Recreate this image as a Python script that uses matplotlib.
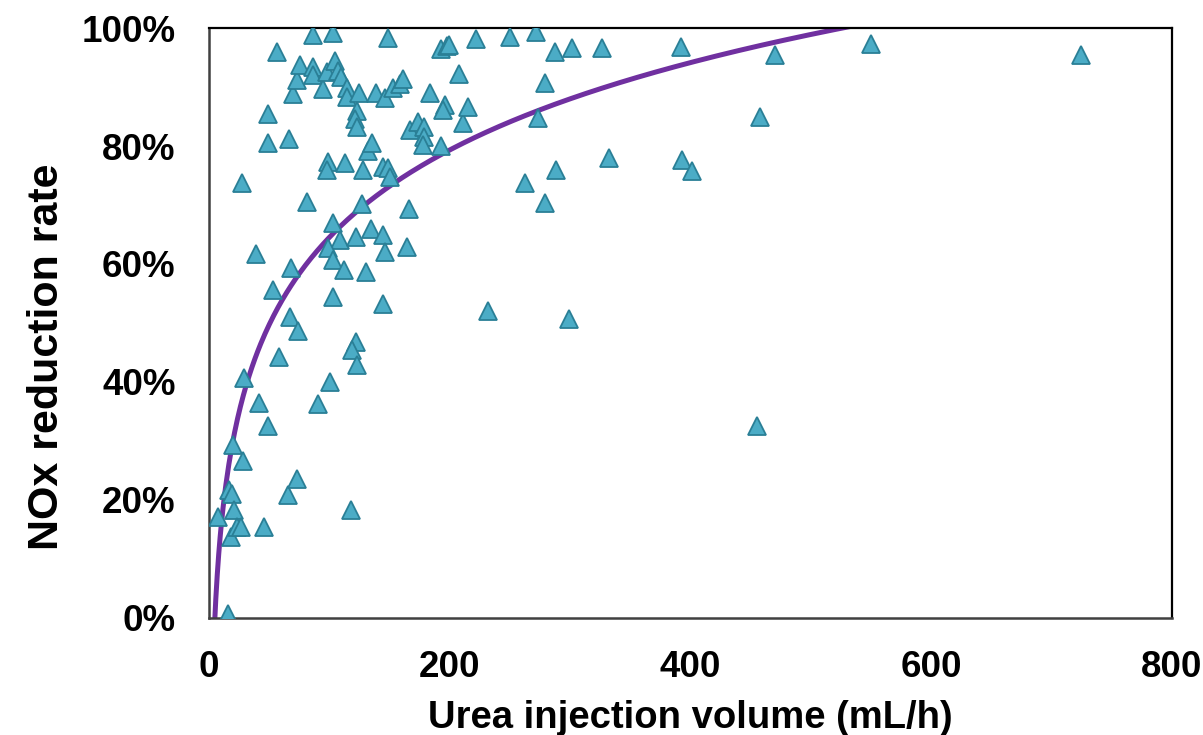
import numpy as np
import matplotlib
matplotlib.use("Agg")
import matplotlib.pyplot as plt
from matplotlib.ticker import PercentFormatter

# urea injection volume (mL/h) and NOx reduction rate (%) per test point
urea = [7.5, 16.6, 19.1, 19.9, 20.8, 18.3, 23.3, 26.6, 28.2, 29.1,
        27.4, 15.8, 39.0, 41.5, 49.0, 45.7, 49.0, 49.0, 53.2, 56.5,
        58.1, 65.6, 73.1, 66.4, 68.1, 67.3, 73.9, 69.8, 73.1, 75.6,
        81.4, 86.4, 86.4, 86.4, 94.7, 90.5, 98.0, 98.8, 98.0, 100.5,
        103.0, 104.7, 103.0, 108.8, 98.8, 103.0, 103.0, 107.1, 109.6, 113.0,
        112.1, 114.6, 114.6, 122.9, 121.3, 122.9, 122.1, 118.8, 122.9, 122.1,
        124.6, 127.9, 127.1, 132.1, 135.4, 134.6, 130.4, 117.9, 138.7, 144.5,
        146.2, 144.5, 146.2, 148.7, 144.5, 148.7, 150.3, 152.8, 158.6, 161.1,
        164.5, 166.1, 166.9, 173.6, 178.6, 178.6, 177.7, 183.6, 192.7, 192.7,
        197.7, 199.3, 196.0, 194.4, 207.6, 211.0, 215.1, 221.8, 231.7, 250.0,
        262.5, 271.6, 273.3, 279.1, 279.1, 287.4, 288.2, 299.0, 301.5, 326.4,
        332.2, 392.0, 392.9, 401.2, 455.1, 457.6, 470.1, 549.8, 724.3]
nox = [17.1, 21.7, 21.0, 29.3, 18.3, 13.7, 15.4, 15.4, 26.6, 40.7,
       73.7, 0.7, 61.7, 36.4, 32.5, 15.4, 85.4, 80.5, 55.6, 95.9,
       44.2, 20.8, 23.6, 81.2, 59.3, 51.0, 48.6, 88.8, 91.2, 93.7,
       70.5, 93.4, 92.0, 98.8, 89.7, 36.3, 92.5, 77.3, 75.9, 40.0,
       99.2, 94.4, 66.9, 64.1, 62.7, 60.7, 54.4, 92.7, 91.7, 77.1,
       59.0, 89.8, 88.3, 85.9, 84.6, 83.2, 46.8, 45.4, 42.9, 64.6,
       89.0, 75.9, 70.2, 79.2, 80.5, 65.9, 58.6, 18.3, 89.0, 64.9,
       62.0, 53.2, 88.1, 98.3, 76.4, 76.3, 74.7, 89.8, 90.5, 91.4,
       62.9, 69.3, 82.7, 84.1, 83.2, 81.5, 80.2, 89.0, 80.0, 96.4,
       96.9, 97.1, 86.9, 86.1, 92.2, 83.9, 86.6, 98.1, 52.0, 98.5,
       73.7, 99.3, 84.7, 70.3, 90.7, 95.9, 75.9, 50.7, 96.6, 96.6,
       78.0, 96.8, 77.6, 75.8, 32.5, 84.9, 95.4, 97.3, 95.4]

# logarithmic trend line: y = a*ln(x) + b (fraction)
trend_a = 0.2137
trend_b = -0.339

plt.rcParams["font.family"] = ["Liberation Sans", "DejaVu Sans"]
plt.rcParams["font.weight"] = "bold"

fig = plt.figure(figsize=(12.03, 7.35), dpi=100)
ax = fig.add_axes([0.1737, 0.1592, 0.8005, 0.8027])

ax.plot(urea, nox, linestyle="none", marker="^", markersize=12.5,
        markerfacecolor="#4BACC6", markeredgecolor="#2A7F96",
        markeredgewidth=1.3, zorder=3)

xs = np.linspace(4.5, max(urea), 600)
ax.plot(xs, (trend_a * np.log(xs) + trend_b) * 100, color="#7030A0",
        linewidth=3.6, zorder=2)

ax.set_xlim(0, 800)
ax.set_ylim(0, 100)
ax.set_xticks([0, 200, 400, 600, 800])
ax.set_yticks([0, 20, 40, 60, 80, 100])
ax.yaxis.set_major_formatter(PercentFormatter(decimals=0))
ax.tick_params(axis="both", length=0, labelsize=26.5)
ax.tick_params(axis="x", pad=23)
ax.tick_params(axis="y", pad=24)
for lbl in ax.get_xticklabels() + ax.get_yticklabels():
    lbl.set_fontweight("bold")

for side in ["top", "right"]:
    ax.spines[side].set_color("black")
    ax.spines[side].set_linewidth(1.6)
for side in ["left", "bottom"]:
    ax.spines[side].set_color("#404040")
    ax.spines[side].set_linewidth(1.8)

ax.set_xlabel("Urea injection volume (mL/h)", fontsize=27.5,
              fontweight="bold", labelpad=11)
ax.set_ylabel("NOx reduction rate", fontsize=31, fontweight="bold")
ax.yaxis.set_label_coords(-0.147, 0.442)

fig.savefig("out.png", dpi=100)
